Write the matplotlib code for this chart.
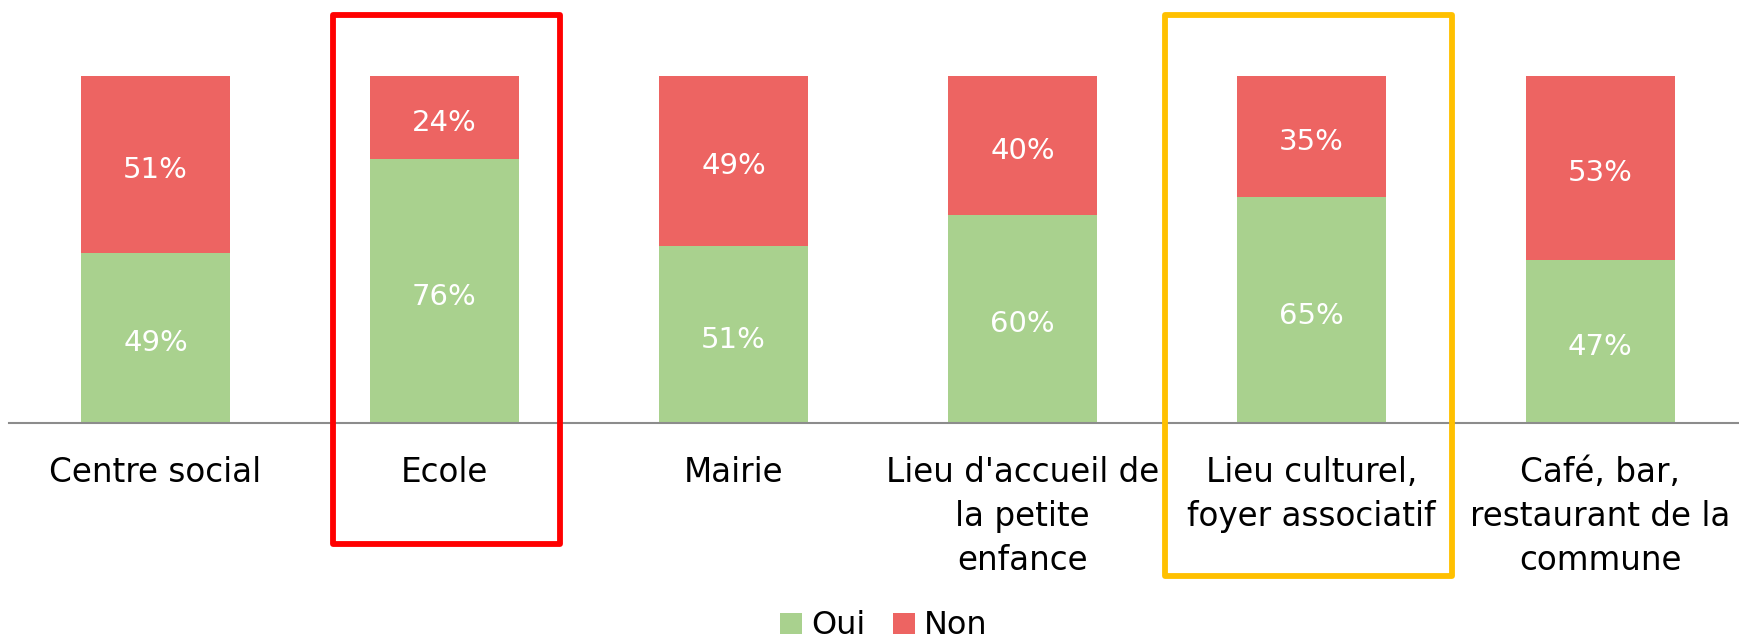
import matplotlib.pyplot as plt
from matplotlib.patches import Rectangle
import numpy as np

# lieux proposés et réponses (part des répondants)
categories = ["Centre social", "Ecole", "Mairie",
              "Lieu d'accueil de\nla petite\nenfance",
              "Lieu culturel,\nfoyer associatif",
              "Café, bar,\nrestaurant de la\ncommune"]
oui = [49, 76, 51, 60, 65, 47]
non = [51, 24, 49, 40, 35, 53]

green = "#A9D18E"
red = "#ED6462"

fig = plt.figure(figsize=(17.4, 6.42), dpi=100)
ax = fig.add_axes([9 / 1740, (642 - 423) / 642, 1 - 9 / 1740, 347.5 / 642])

x = np.arange(len(categories))
oui_f = np.array(oui) / 100
non_f = np.array(non) / 100
w = 0.515
b1 = ax.bar(x, oui_f, w, color=green, label="Oui")
b2 = ax.bar(x, non_f, w, bottom=oui_f, color=red, label="Non")

for xi, o, n in zip(x, oui_f, non_f):
    for yc, v in [(o / 2, o), (o + n / 2, n)]:
        ax.annotate(f"{round(v * 100)}%", (xi, yc), xytext=(0, -4),
                    textcoords="offset points", ha="center", va="center",
                    color="white", fontsize=21)

ax.set_xlim(-0.507, 5.483)
ax.set_ylim(0, 1)
ax.set_xticks(x)
ax.set_xticklabels(categories, fontsize=23.5, linespacing=1.42)
ax.tick_params(axis="x", length=0, pad=24)
ax.set_yticks([])
for s in ["top", "right", "left"]:
    ax.spines[s].set_visible(False)
ax.spines["bottom"].set_color("#8C8C8C")
ax.spines["bottom"].set_linewidth(1.5)

# cadres autour de Ecole et Lieu culturel
frames = [(1, -0.385, 0.398, -0.347, "#FF0000"),
          (4, -0.507, 0.485, -0.439, "#FFC000")]
for idx, dl, dr, ybot, col in frames:
    r = Rectangle((x[idx] + dl, ybot), dr - dl, 1.173 - ybot, fill=False,
                  edgecolor=col, linewidth=4.2, joinstyle="round",
                  clip_on=False, zorder=5)
    ax.add_patch(r)

fig.legend(handles=[b1, b2], loc="center", bbox_to_anchor=(884 / 1740, 1 - 626 / 642),
           ncol=2, frameon=False, fontsize=23, handlelength=0.68, handleheight=0.62,
           handletextpad=0.3, columnspacing=0.85, borderpad=0)

fig.savefig("out.png", dpi=100)
